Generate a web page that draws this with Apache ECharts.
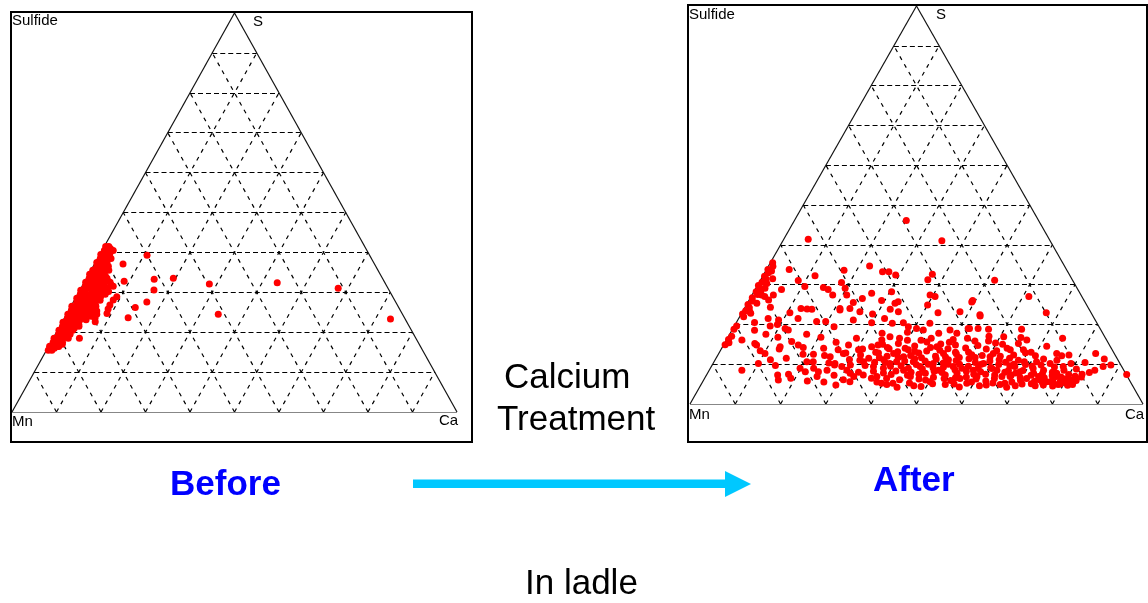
<!DOCTYPE html>
<html><head><meta charset="utf-8">
<script src="https://cdn.jsdelivr.net/npm/echarts@6/dist/echarts.min.js"></script>
<style>html,body{margin:0;padding:0;background:#fff;overflow:hidden}#c{width:1148px;height:603px}</style>
</head><body><div id="c"></div>
<script>
// Ternary grid steps (percent)
const gridSteps = [10, 20, 30, 40, 50, 60, 70, 80, 90];
const vertexLabels = ['Sulfide', 'S', 'Mn', 'Ca'];
const panelTitles = ['Before', 'After'];
const captionLines = ['Calcium', 'Treatment'];
const footerText = 'In ladle';

// Points as [Ca %, S %]  (Mn % = 100 - Ca - S)
const beforeIsolated = [[10.7,39.3],[6.4,37.1],[8.8,32.8],[15.3,33.3],[19.5,33.5],[28.3,32.1],[43.4,32.4],[57.8,31.0],[16.6,30.6],[16.5,27.6],[14.6,26.2],[14.3,23.6],[34.1,24.5],[73.4,23.3],[5.9,18.5],[2.3,16.4],[9.1,28.9],[8.7,28.1],[8.6,26.8],[8.7,25.8],[9.0,24.7],[5.1,23.1],[6.9,23.5],[5.4,28.9],[7.4,22.6],[6.4,25.3]];
const beforeCluster = [
[0.3,41.5],[1.0,41.5],
[0.5,40.5],[1.5,40.5],[2.5,40.5],
[0.2,39.5],[1.2,39.5],[2.2,39.5],
[0.6,38.5],[1.8,38.5],[3.0,38.5],
[0.3,37.5],[1.4,37.5],[2.6,37.5],
[0.8,36.5],[2.0,36.5],[3.4,36.5],
[0.4,35.5],[1.5,35.5],[2.8,35.5],[4.0,35.5],
[0.2,34.5],[1.1,34.5],[2.3,34.5],[3.5,34.5],
[0.6,33.5],[1.7,33.5],[3.0,33.5],[4.6,33.5],
[0.3,32.5],[1.3,32.5],[2.5,32.5],[3.8,32.5],[5.8,32.5],
[0.7,31.5],[2.0,31.5],[3.3,31.5],[5.0,31.5],[7.0,31.5],
[0.2,30.5],[1.2,30.5],[2.6,30.5],[4.0,30.5],[5.5,30.5],
[0.6,29.5],[1.8,29.5],[3.0,29.5],[4.5,29.5],[6.2,29.5],
[0.3,28.5],[1.4,28.5],[2.5,28.5],[3.7,28.5],[5.0,28.5],
[0.8,27.5],[2.0,27.5],[3.2,27.5],[4.4,27.5],
[0.2,26.5],[1.3,26.5],[2.6,26.5],[3.9,26.5],[5.6,26.5],
[0.6,25.5],[1.8,25.5],[3.0,25.5],[4.2,25.5],
[0.3,24.5],[1.2,24.5],[2.5,24.5],[3.6,24.5],[5.2,24.5],[6.8,24.5],
[0.7,23.5],[1.9,23.5],[3.1,23.5],[4.4,23.5],
[0.2,22.5],[1.3,22.5],[2.4,22.5],[3.5,22.5],
[0.6,21.5],[1.7,21.5],[2.9,21.5],[4.3,21.5],
[0.3,20.5],[1.2,20.5],[2.3,20.5],[3.4,20.5],
[0.7,19.5],[1.8,19.5],[2.8,19.5],
[0.2,18.5],[1.1,18.5],[2.2,18.5],[3.4,18.5],
[0.5,17.5],[1.5,17.5],[2.6,17.5],
[0.2,16.5],[1.0,16.5],[2.0,16.5],
[0.4,15.5],[1.2,15.5],
[1.6,41.0],[0.8,40.0],[2.0,39.0],[1.0,38.0],[2.4,37.0],[1.1,36.0],[3.0,35.0],[1.9,34.0],[4.0,34.0],[2.6,33.0],[3.8,33.0],[5.2,32.8],[1.8,32.0],[4.3,32.0],[6.4,31.8],[1.4,31.0],[2.8,31.0],[4.4,31.0],[6.0,31.0],[3.4,30.0],[4.9,30.0],[6.6,30.2],[2.4,29.0],[3.8,29.0],[5.4,29.0],[1.9,28.0],[3.2,28.0],[4.4,28.0],[5.8,28.0],[2.6,27.0],[3.8,27.0],[5.2,27.0],[1.9,26.0],[3.3,26.0],[4.6,26.0],[2.4,25.0],[3.6,25.0],[4.9,25.0],[6.0,25.0],[2.9,24.0],[4.2,24.0],[5.8,24.0],[2.4,23.0],[3.7,23.0],[2.8,22.0],[4.0,22.0],[2.2,21.0],[3.5,21.0],[2.7,20.0],[1.6,19.0],[3.3,19.5],[2.8,17.0],[1.5,16.0]];

const afterEdge = [[0.5,35.5],[1.0,34.6],[0.3,33.8],[0.8,33.0],[0.4,32.1],[1.1,31.4],[0.6,30.6],[0.2,29.8],[0.9,29.0],[0.5,28.2],[1.2,27.5],[0.4,26.7],[0.8,25.9],[0.3,25.0],[1.0,24.2],[0.6,23.4],[0.3,22.6],[0.9,21.9],[0.5,19.6],[0.3,18.8],[0.7,17.0],[0.4,16.2],[0.9,15.4],[0.3,14.9],
[2.0,29.1],[2.1,27.4],[4.3,26.1],[2.1,25.3],[1.3,33.4],[1.6,23.2],[5.6,24.3],[2.0,22.8],[1.5,28.2],[1.8,30.3],[3.0,27.0],[2.5,31.5]];
const afterScatter = [[24.7,46.1],[5.4,41.4],[35.1,41.0],[5.0,33.8],[17.2,33.6],[22.3,34.7],[25.9,33.2],[27.3,33.2],[29.2,32.4],[37.2,32.6],[36.9,31.2],[51.7,31.1],[11.5,32.2],[8.4,31.0],[10.6,29.5],[18.2,30.5],[14.8,29.3],[16.1,28.8],[17.8,27.4],[19.7,29.1],[20.9,27.4],[26.2,27.8],[30.4,28.2],[39.3,27.4],[40.6,27.0],[61.3,27.0],[5.8,28.8],[4.7,27.4],
[29.3,26.0],[33.1,25.7],[32.6,25.3],[24.8,26.5],[23.3,25.5],[21.1,24.0],[21.3,23.6],[23.3,24.0],[25.9,23.2],[29.0,22.6],[32.3,23.8],[34.4,23.2],[40.0,24.9],[43.3,22.9],[48.0,23.2],[49.4,26.0],[53.0,22.1],[67.2,22.9],[12.5,24.0],[13.9,23.9],[15.0,23.8],[10.6,22.9],[13.1,21.5],[9.0,21.1],
[17.6,20.7],[19.6,20.7],[22.1,19.4],[25.5,21.1],[29.9,20.4],[32.2,21.5],[34.5,20.3],[36.9,20.4],[38.5,19.4],[40.5,19.0],[42.2,18.6],[42.8,20.3],[48.1,18.6],[50.0,17.8],[51.9,19.0],[54.1,19.0],[56.5,18.8],[60.8,16.9],[63.8,18.8],[74.0,16.5],[83.2,12.7],[92.7,7.4],[86.5,9.4],[85.1,8.5],[82.0,10.4],[77.5,12.3],[76.0,12.1],
[3.4,16.1],[6.7,15.2],[7.3,14.8],[8.8,13.4],[10.2,12.7],[12.2,11.1],[7.9,19.6],[9.3,20.0],[12.4,18.6],[14.6,15.7],[16.5,14.8],[17.9,14.2],[12.7,14.4],[10.0,10.2],[7.2,8.5],[15.7,7.3],[16.5,6.0],[18.0,7.5],[20.5,10.6],[21.9,10.6],[21.4,8.1],[24.3,8.1],[24.6,6.9],[26.0,8.5],[25.0,11.9],[26.9,10.2],[28.8,9.4],[30.4,8.5],[31.5,7.7],[32.7,6.9],[32.5,5.6],[25.9,13.6],[27.5,12.7],[27.6,14.8],[30.4,13.6],[33.0,10.6],[33.7,11.5],[35.8,9.4],[37.8,6.9],[39.7,5.2],[40.2,6.4],[32.9,14.4],[34.3,16.1],[35.7,16.9],[38.4,15.2],[38.6,12.7],[41.2,11.9],[41.4,13.6],[44.0,10.6],[46.1,9.4],[48.1,7.7],[50.2,5.6],[42.9,8.5],[45.2,6.9],[39.0,10.2],[37.2,11.1],[40.3,10.6],[47.3,14.4],[49.6,12.7],[51.5,11.1],[53.4,9.4],[55.1,7.7],[56.4,6.4],[58.5,5.2],[48.6,10.2],[50.6,8.5],[52.7,7.3],[58.3,8.5],[59.9,6.9],[59.7,10.2],[60.3,11.9],[63.5,8.5],[65.4,6.9],[66.9,5.2],[67.2,6.9],[67.0,9.4],[68.8,8.1],[71.1,6.4],[72.0,7.7],[74.3,6.0],[75.9,5.6],[77.6,5.2],[78.9,5.6],[80.5,5.2],[81.8,5.6],[77.1,7.7],[77.7,9.4],[74.4,10.2],[73.8,8.5],[71.2,10.6],[66.8,13.6],[64.9,15.2],[66.3,16.1],[49.4,25.6],[52.8,22.4],[52.2,19.0],[64.7,16.7],[74.6,12.7]];
const afterCore = [[31.5,12.3],[33.8,9.7],[35.2,12.8],[36.4,8.2],[37.9,10.4],[39.3,13.1],[40.7,7.4],[41.8,9.6],[42.6,12.2],[43.9,11.4],[44.8,8.0],[45.6,13.3],[46.5,10.8],[47.4,6.3],[48.2,12.0],[49.1,9.1],[50.0,13.9],[50.8,10.3],[51.7,7.9],[52.5,12.6],[53.3,10.9],[54.2,8.6],[55.0,13.0],[55.9,11.4],[56.7,9.5],[57.6,6.8],[58.4,12.2],[59.3,10.0],[60.1,8.1],[61.0,13.4],[61.8,9.2],[62.7,11.1],[63.6,7.3],[64.4,10.5],[65.3,12.3],[66.1,8.4],[67.0,11.0],[68.0,7.8],[69.1,9.9],[70.2,12.1],[71.3,8.9],[72.4,11.3],[73.5,6.9],[36.0,11.6],[38.2,9.0],[40.1,11.7],[42.3,14.6],[44.1,12.8],[45.0,9.9],[46.9,8.8],[48.7,11.3],[50.4,6.7],[52.0,10.0],[53.8,14.1],[55.5,9.0],[57.1,11.7],[58.9,7.5],[60.6,12.7],[62.2,8.9],[63.9,13.6],[65.8,9.6],[67.6,12.9],[69.6,6.6],[34.6,7.3],[37.0,13.9],[43.2,6.1],[47.8,15.1],[51.2,14.8],[54.6,5.9],[56.2,14.7],[59.8,15.3],[62.4,5.8],[44.5,15.6],[29.6,11.2],[28.2,7.2],[30.8,6.1],[27.0,9.8],[23.6,12.2],[19.8,9.0],[22.5,14.0],[18.7,12.5],[14.0,9.7],[12.8,13.8],[15.5,11.5],
[30.5,9.8],[32.0,11.0],[33.2,8.0],[34.5,13.0],[35.5,10.5],[36.8,6.5],[37.5,12.0],[38.8,7.8],[39.5,9.5],[40.5,14.0],[41.3,8.3],[42.0,10.8],[43.0,13.2],[43.7,9.0],[44.4,7.2],[45.3,11.6],[46.0,14.2],[46.8,7.5],[47.6,10.0],[48.4,13.5],[49.0,6.0],[49.8,8.2],[50.5,11.8],[51.3,9.3],[52.1,13.0],[52.9,6.4],[53.6,11.7],[54.5,10.0],[55.3,6.6],[56.0,12.4],[56.9,8.2],[57.8,10.4],[58.5,13.8],[59.1,9.0],[60.0,6.3],[60.8,10.8],[61.5,7.5],[62.5,12.0],[63.2,9.9],[64.0,6.4],[64.8,11.5],[65.5,8.0],[66.5,10.0],[67.3,7.2],[68.5,10.6],[69.3,8.4],[70.0,5.9],[70.8,9.5],[71.7,7.2],[72.6,9.8],[38.5,5.5],[42.2,5.2],[45.8,5.3],[48.8,4.4],[51.0,5.1],[55.8,5.0],[59.4,5.5],[63.0,4.8],[67.8,4.2],
[35.0,15.0],[40.0,16.0],[45.0,16.5],[50.0,16.2],[55.0,15.8],[57.5,17.0],[61.5,15.0],[46.0,17.8],[39.0,18.0],[33.5,17.8],[28.5,16.5],[24.5,15.5],[20.5,16.8],[17.0,17.5],[21.0,12.5],[25.5,10.3],[28.0,12.8],[22.8,9.0],[19.0,6.5],[23.0,5.8],[26.8,5.5],[29.8,4.8],[31.2,13.8],[34.1,14.8],[36.5,14.2],[38.0,16.5],[43.0,16.0],[49.5,15.5],[53.0,16.5],[58.0,15.8],[63.0,14.0],[68.8,13.0],[71.5,14.5],[75.5,11.0],[79.0,10.2],[11.0,16.8],[8.0,17.5],[5.0,18.5],[4.0,20.5],[6.5,21.5],[11.5,19.0]];
const afterRight = [[72.8,5.1],[73.9,4.6],[74.9,6.6],[75.6,4.8],[76.4,7.1],[77.0,6.2],[77.8,4.5],[78.5,6.8],[79.2,5.0],[79.9,7.4],[80.4,6.1],[81.0,4.7],[81.5,7.0],[82.3,5.9],[83.0,6.8],[80.9,8.8],[78.3,8.5],[75.8,9.3],[70.8,5.0],[69.5,4.6],[68.3,5.5],[66.0,4.9],[64.2,5.3],[61.6,4.6],[57.3,4.3],[53.9,4.9],[47.1,4.6],[43.6,4.2],[41.0,4.9],[84.2,7.9],[85.8,11.3],[88.0,9.8],
[73.2,5.7],[74.0,7.6],[75.1,5.4],[76.0,8.0],[76.8,5.6],[77.5,6.9],[78.8,4.9],[79.6,6.3],[80.2,5.5],[81.2,6.0],[82.0,4.9],[82.8,7.5]];

const beforeData = beforeCluster.concat(beforeIsolated);
const afterData = afterEdge.concat(afterScatter, afterCore, afterRight);

// ternary (Ca, S) -> cartesian
function toXY(p) { return [p[0] + p[1] / 2, p[1]]; }

function hLines() { return gridSteps.map(k => ({ coords: [toXY([0, k]), toXY([100 - k, k])] })); }
function dLines() {
  const out = [];
  gridSteps.forEach(k => {
    out.push({ coords: [toXY([k, 0]), toXY([k, 100 - k])] });
    out.push({ coords: [toXY([100 - k, 0]), toXY([0, 100 - k])] });
  });
  return out;
}
function outline() {
  const A = toXY([0, 0]), B = toXY([100, 0]), C = toXY([0, 100]);
  return [{ coords: [A, B] }, { coords: [B, C] }, { coords: [C, A] }];
}

const grids = [
  { left: 12, top: 13, width: 445, height: 399 },
  { left: 690, top: 6, width: 453, height: 398 }
];
const datasets = [beforeData, afterData];

const series = [];
[0, 1].forEach(i => {
  series.push({ type: 'lines', coordinateSystem: 'cartesian2d', xAxisIndex: i, yAxisIndex: i, silent: true,
    lineStyle: { color: '#000', width: 1.2, type: [5, 3], opacity: 1 }, data: hLines(), z: 1 });
  series.push({ type: 'lines', coordinateSystem: 'cartesian2d', xAxisIndex: i, yAxisIndex: i, silent: true,
    lineStyle: { color: '#000', width: 1.2, type: [4, 5], opacity: 1 }, data: dLines(), z: 1 });
  series.push({ type: 'lines', coordinateSystem: 'cartesian2d', xAxisIndex: i, yAxisIndex: i, silent: true,
    lineStyle: { color: '#111', width: 1.2, type: 'solid', opacity: 1 }, data: outline(), z: 2 });
  series.push({ type: 'scatter', xAxisIndex: i, yAxisIndex: i, silent: true, symbol: 'circle', symbolSize: 7,
    itemStyle: { color: '#ff0000', opacity: 1 }, data: datasets[i].map(toXY), z: 3 });
});

const smallFont = '15px "Liberation Sans", Arial, sans-serif';
const bigFont = '35px "Liberation Sans", Arial, sans-serif';
const boldFont = 'bold 35px "Liberation Sans", Arial, sans-serif';
function txt(text, x, y, font, fill) {
  return { type: 'text', z: 10, silent: true,
    style: { text: text, x: x, y: y, font: font, fill: fill || '#000',
      textAlign: 'left', align: 'left', textVerticalAlign: 'middle', verticalAlign: 'middle' } };
}

const graphic = [
  { type: 'rect', shape: { x: 11, y: 12, width: 461, height: 430 }, style: { fill: 'none', stroke: '#000', lineWidth: 2 }, z: 5, silent: true },
  { type: 'rect', shape: { x: 688, y: 5, width: 459, height: 437 }, style: { fill: 'none', stroke: '#000', lineWidth: 2 }, z: 5, silent: true },
  txt(vertexLabels[0], 12, 21, smallFont),
  txt(vertexLabels[1], 253, 22, smallFont),
  txt(vertexLabels[2], 12, 422, smallFont),
  txt(vertexLabels[3], 439, 421, smallFont),
  txt(vertexLabels[0], 689, 15, smallFont),
  txt(vertexLabels[1], 936, 15, smallFont),
  txt(vertexLabels[2], 689, 415, smallFont),
  txt(vertexLabels[3], 1125, 415, smallFont),
  txt(captionLines[0], 504, 378, bigFont),
  txt(captionLines[1], 497, 420, bigFont),
  txt(footerText, 525, 584, bigFont),
  txt(panelTitles[0], 170, 485, boldFont, '#0000ff'),
  txt(panelTitles[1], 873, 481, boldFont, '#0000ff'),
  { type: 'rect', shape: { x: 413, y: 479.5, width: 313, height: 8.5 }, style: { fill: '#00c8ff' }, z: 5, silent: true },
  { type: 'polygon', shape: { points: [[725, 471], [751, 484], [725, 497]] }, style: { fill: '#00c8ff' }, z: 5, silent: true }
];

const chart = echarts.init(document.getElementById('c'), null, { renderer: 'canvas' });
chart.setOption({
  animation: false,
  backgroundColor: '#fff',
  grid: grids,
  xAxis: [0, 1].map(i => ({ type: 'value', gridIndex: i, min: 0, max: 100, show: false })),
  yAxis: [0, 1].map(i => ({ type: 'value', gridIndex: i, min: 0, max: 100, show: false })),
  series: series,
  graphic: graphic
});
</script>
</body></html>
